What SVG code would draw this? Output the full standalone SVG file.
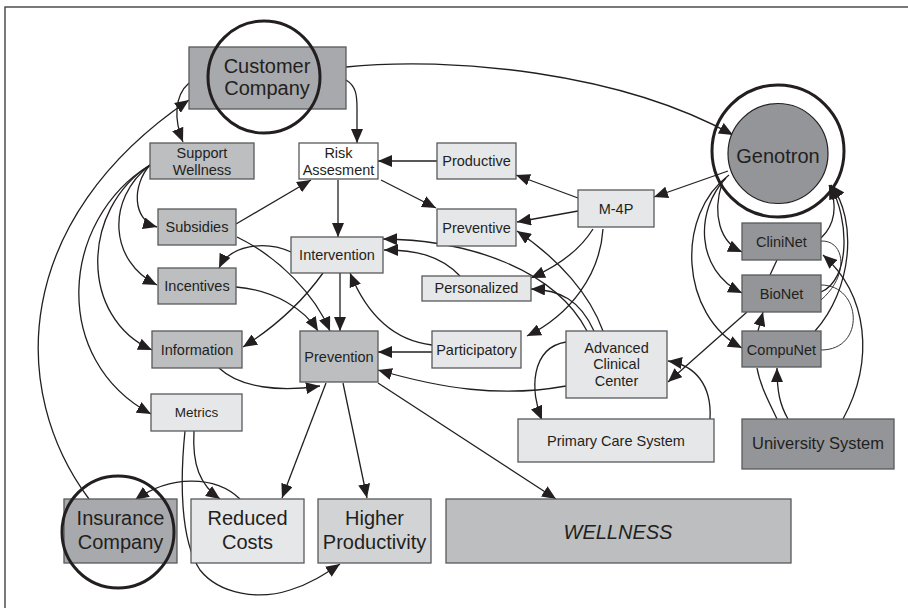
<svg xmlns="http://www.w3.org/2000/svg" width="908" height="608" viewBox="0 0 908 608">
<defs>
<marker id="ah" markerUnits="userSpaceOnUse" markerWidth="14" markerHeight="12" refX="14" refY="6" orient="auto">
<path d="M0,0 L14,6 L0,12 z" fill="#231f20"/>
</marker>
<style>
.c{fill:none;stroke:#231f20;stroke-width:1.3}
.a{marker-end:url(#ah)}
.th{fill:none;stroke:#231f20;stroke-width:0.9}
.b{stroke:#58595b;stroke-width:1.3}
.lt{fill:#e6e7e8}
.md{fill:#bcbec0}
.dk{fill:#939598}
.cc{fill:#a7a9ac}
.hp{fill:#d1d3d4}
.wh{fill:#ffffff}
text{font-family:"Liberation Sans",Arial,sans-serif;fill:#231f20;text-anchor:middle}
.s{font-size:14.5px}
.L{font-size:20px}
.u{font-size:16.5px}
.ring{fill:none;stroke:#231f20;stroke-width:3}
</style>
</defs>
<rect x="0" y="0" width="908" height="608" fill="#ffffff"/>
<rect x="5" y="7" width="920" height="620" fill="none" stroke="#4d4d4f" stroke-width="1.5"/>

<g id="connectors">
<path class="c a" d="M346,67 C450,56 620,72 733,135"/>
<path class="c a" d="M346,80 C356,86 357,95 357,108 L357,143"/>
<path class="c a" d="M189,83 C174,96 174,120 183,142"/>
<path class="c a" d="M89,499 C8,390 12,220 189,100"/>
<path class="c a" d="M150,165 C132,185 132,220 157,227"/>
<path class="c a" d="M150,165 C105,200 110,262 157,285"/>
<path class="c a" d="M150,165 C80,210 80,318 152,350"/>
<path class="c a" d="M150,165 C60,220 50,360 151,414"/>
<path class="c a" d="M437,161 L378,161"/>
<path class="c a" d="M381,180 L436,208"/>
<path class="c a" d="M338,180 L338,237"/>
<path class="c a" d="M236,224 L311,180"/>
<path class="c a" d="M237,237 C280,258 315,295 330,331"/>
<path class="c a" d="M291,252 C265,240 230,245 219,268"/>
<path class="c a" d="M236,287 C275,290 305,310 318,331"/>
<path class="c a" d="M323,273 C300,305 270,330 243,347"/>
<path class="c a" d="M340,273 L340,331"/>
<path class="c a" d="M432,345 C390,340 365,310 350,273"/>
<path class="c a" d="M432,352 L378,352"/>
<path class="c a" d="M219,368 C240,388 280,392 320,386"/>
<path class="c a" d="M566,386 C500,398 440,388 378,370"/>
<path class="c a" d="M587,331 C555,270 470,240 383,239"/>
<path class="c a" d="M460,276 C440,255 415,250 384,250"/>
<path class="c a" d="M594,331 C580,300 560,290 531,289"/>
<path class="c a" d="M603,331 C590,295 560,260 517,231"/>
<path class="c a" d="M578,198 L516,175"/>
<path class="c a" d="M578,211 L517,222"/>
<path class="c a" d="M593,229 C580,250 560,265 531,278"/>
<path class="c a" d="M603,229 C600,275 570,315 527,336"/>
<path class="c a" d="M728,171 L654,197"/>
<path class="c a" d="M722,183 C712,215 720,242 742,252"/>
<path class="c a" d="M726,178 C695,210 695,270 742,293"/>
<path class="c a" d="M729,175 C675,215 680,315 742,348"/>
<path class="c" d="M777,260 L770,275"/>
<path class="c a" d="M758,331 L763,312"/>
<path class="c a" d="M747,312 L668,382"/>
<path class="c a" d="M710,419 C712,385 695,365 668,361"/>
<path class="c a" d="M566,342 C530,348 530,392 542,420"/>
<path class="c a" d="M821,238 C835,225 838,205 829,185"/>
<path class="c a" d="M821,292 C850,280 850,220 830,185"/>
<path class="c a" d="M815,331 C852,290 858,220 831,185"/>
<path class="c a" d="M843,419 C875,360 868,295 823,255"/>
<path class="th" d="M821,241 C845,240 850,275 821,300"/>
<path class="th" d="M821,285 C862,285 866,350 821,350"/>
<path class="c a" d="M788,419 C780,405 777,392 777,368"/>
<path class="c" d="M777,419 C768,400 760,385 757,368"/>
<path class="c a" d="M326,383 L282,498"/>
<path class="c a" d="M343,383 L367,498"/>
<path class="c a" d="M378,383 L556,499"/>
<path class="c a" d="M194,431 C192,465 200,485 220,499"/>
<path class="c a" d="M185,431 C180,480 180,540 200,570 C220,595 260,600 290,590 C310,584 325,574 340,564"/>
<path class="c a" d="M240,499 C215,475 170,475 135,500"/>
</g>

<g id="customer-company">
<rect class="b cc" x="189" y="47" width="157" height="62"/>
<text class="L" x="267" y="73">Customer</text>
<text class="L" x="267" y="95">Company</text>
<circle class="ring" cx="264" cy="77" r="56"/>
</g>
<g id="support-wellness">
<rect class="b md" x="150" y="143" width="104" height="36"/>
<text class="s" x="202" y="158">Support</text>
<text class="s" x="202" y="175">Wellness</text>
</g>
<g id="risk-assesment">
<rect class="b wh" x="299" y="143" width="79" height="36"/>
<text class="s" x="338.5" y="158">Risk</text>
<text class="s" x="338.5" y="175">Assesment</text>
</g>
<g id="productive">
<rect class="b lt" x="437" y="143" width="79" height="36"/>
<text class="s" x="476.5" y="166">Productive</text>
</g>
<g id="genotron">
<circle cx="778" cy="153.5" r="50" fill="#939598" stroke="#231f20" stroke-width="1.2"/>
<circle class="ring" cx="778" cy="151" r="66"/>
<text class="L" x="778" y="163">Genotron</text>
</g>
<g id="m-4p">
<rect class="b lt" x="578" y="190" width="76" height="37"/>
<text class="s" x="616" y="214">M-4P</text>
</g>
<g id="preventive">
<rect class="b lt" x="437" y="209" width="79" height="37"/>
<text class="s" x="476.5" y="233">Preventive</text>
</g>
<g id="personalized">
<rect class="b lt" x="422" y="276" width="109" height="25"/>
<text class="s" x="476.5" y="293">Personalized</text>
</g>
<g id="participatory">
<rect class="b lt" x="432" y="331" width="89" height="37"/>
<text class="s" x="476.5" y="355">Participatory</text>
</g>
<g id="advanced-clinical-center">
<rect class="b lt" x="566" y="331" width="101" height="67"/>
<text class="s" x="616.5" y="353">Advanced</text>
<text class="s" x="616.5" y="369">Clinical</text>
<text class="s" x="616.5" y="386">Center</text>
</g>
<g id="primary-care-system">
<rect class="b lt" x="518" y="419" width="196" height="43"/>
<text class="s" x="616" y="446">Primary Care System</text>
</g>
<g id="clininet">
<rect class="b dk" x="742" y="223" width="79" height="37"/>
<text class="s" x="781.5" y="246.5">CliniNet</text>
</g>
<g id="bionet">
<rect class="b dk" x="742" y="275" width="79" height="37"/>
<text class="s" x="781.5" y="299">BioNet</text>
</g>
<g id="compunet">
<rect class="b dk" x="742" y="331" width="79" height="36"/>
<text class="s" x="781.5" y="354.5">CompuNet</text>
</g>
<g id="university-system">
<rect class="b dk" x="742" y="419" width="152" height="50"/>
<text class="u" x="818" y="449">University System</text>
</g>
<g id="subsidies">
<rect class="b md" x="158" y="209" width="78" height="36"/>
<text class="s" x="197" y="232">Subsidies</text>
</g>
<g id="intervention">
<rect class="b lt" x="291" y="237" width="92" height="36"/>
<text class="s" x="337" y="260">Intervention</text>
</g>
<g id="incentives">
<rect class="b md" x="158" y="268" width="78" height="36"/>
<text class="s" x="197" y="291">Incentives</text>
</g>
<g id="information">
<rect class="b md" x="152" y="331" width="90" height="37"/>
<text class="s" x="197" y="355">Information</text>
</g>
<g id="prevention">
<rect class="b md" x="300" y="331" width="78" height="51"/>
<text class="s" x="339" y="362">Prevention</text>
</g>
<g id="metrics">
<rect class="b lt" x="151" y="394" width="91" height="37"/>
<text class="s" x="196.5" y="417" style="font-size:13.5px">Metrics</text>
</g>
<g id="insurance-company">
<rect class="b cc" x="64" y="499" width="113" height="64"/>
<text class="L" x="120.5" y="525">Insurance</text>
<text class="L" x="120.5" y="549">Company</text>
<circle class="ring" cx="118" cy="532" r="56"/>
</g>
<g id="reduced-costs">
<rect class="b lt" x="191" y="499" width="113" height="64"/>
<text class="L" x="247.5" y="525">Reduced</text>
<text class="L" x="247.5" y="549">Costs</text>
</g>
<g id="higher-productivity">
<rect class="b hp" x="318" y="499" width="113" height="64"/>
<text class="L" x="374.5" y="525">Higher</text>
<text class="L" x="374.5" y="549">Productivity</text>
</g>
<g id="wellness">
<rect class="b md" x="446" y="499" width="345" height="64"/>
<text class="L" x="618" y="539" font-style="italic">WELLNESS</text>
</g>
</svg>
